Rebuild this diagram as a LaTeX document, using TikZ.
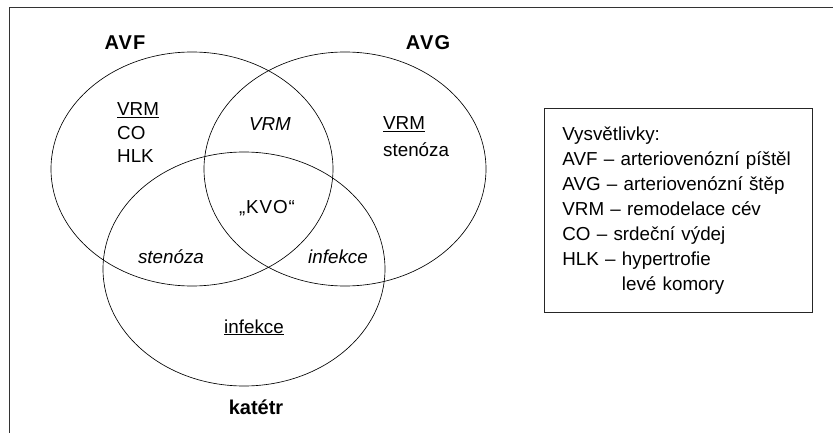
\documentclass[tikz,border=0pt]{standalone}
\usepackage{fontspec}
\setmainfont{Liberation Sans}
\newfontfamily\spacedbold[LetterSpace=6,BoldFont={Liberation Sans Bold}]{Liberation Sans}
\newfontfamily\spacedtext[LetterSpace=5]{Liberation Sans}
\usetikzlibrary{positioning}

\tikzset{
  venn/.style={line width=0.65pt, color=black},
  setname/.style={inner sep=0pt, font=\fontsize{20}{24}\selectfont\bfseries},
  item/.style={inner sep=0pt, font=\fontsize{18.8}{24}\selectfont},
  legendbox/.style={draw, line width=0.8pt, color=black!85, text=black, anchor=north west,
    minimum width=268pt, minimum height=204pt, text width=232pt, inner xsep=18pt,
    align=left, font=\fontsize{18.8}{25}\selectfont}
}

\begin{document}
\begin{tikzpicture}[x=1pt, y=-1pt]
			%%%%% START %%%%%
			\useasboundingbox (0, 0) rectangle (833, 433);

			% frame
			\draw[line width=1pt, color=black!80] (9, 433) -- (9, 8) -- (833, 8);

			% sets
			\draw[venn] (192, 169) ellipse [x radius=141pt, y radius=117pt];
			\draw[venn] (345, 169) ellipse [x radius=141pt, y radius=117pt];
			\draw[venn] (244, 269) ellipse [x radius=141pt, y radius=117pt];

			\node[setname, font=\fontsize{20}{24}\selectfont\spacedbold\bfseries] (avf) at (125, 43) {AVF};
			\node[setname, font=\fontsize{20}{24}\selectfont\spacedbold\bfseries] (avg) at (428, 43) {AVG};
			\node[setname] (katetr) at (256, 407) {katétr};

			% AVF only
			\node[item, anchor=base west] (vrmA) at (117, 116) {\underline{VRM}};
			\node[item, anchor=base west] (coA) at (117, 140) {CO};
			\node[item, anchor=base west] (hlkA) at (117, 163) {HLK};

			% AVG only
			\node[item, anchor=base west] (vrmG) at (383, 130) {\underline{VRM}};
			\node[item, anchor=base west] (stenG) at (383, 157) {stenóza};

			% overlaps
			\node[item, anchor=base] (vrmAG) at (270, 131) {\itshape VRM};
			\node[item, anchor=base, font=\fontsize{18.8}{24}\selectfont\spacedtext] (kvo) at (267, 213) {„KVO“};
			\node[item, anchor=base] (stenAK) at (171, 263) {\itshape stenóza};
			\node[item, anchor=base] (infGK) at (338, 263) {\itshape infekce};

			% katetr only
			\node[item, anchor=base] (infK) at (254, 333) {\underline{infekce}};

			% legend
			\node[legendbox] (legend) at (544, 108) {Vysvětlivky:\\
				AVF – arteriovenózní píštěl\\
				AVG – arteriovenózní štěp\\
				VRM – remodelace cév\\
				CO – srdeční výdej\\
				HLK – hypertrofie\\
				\phantom{HLK – }levé komory};
			%%%%% END %%%%%
\end{tikzpicture}
\end{document}
